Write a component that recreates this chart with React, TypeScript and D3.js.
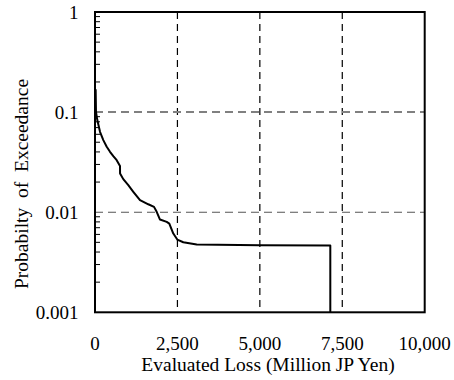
import React from "react";
import * as d3 from "d3";

const lossValues = [20, 30, 70, 152, 252, 355, 455, 555, 658, 758, 760, 858, 1010, 1162, 1365, 1617, 1790, 1871, 1971, 2175, 2254, 2375, 2496, 2678, 3085, 5005, 7137, 7137];
const probValues = [0.169, 0.1007, 0.0832, 0.0635, 0.0525, 0.045, 0.0401, 0.0363, 0.0331, 0.029, 0.0244, 0.0214, 0.0186, 0.016, 0.0132, 0.012, 0.0113, 0.0101, 0.00845, 0.008, 0.0077, 0.00612, 0.00533, 0.00501, 0.00475, 0.00468, 0.00466, 0.001];
const xTicks = [0, 2500, 5000, 7500, 10000];
const yTicks = [0.001, 0.01, 0.1, 1];
const yTickLabels = ["0.001", "0.01", "0.1", "1"];

export default function App() {
  const W = 454, H = 380;
  const L = 95, R = 424.7, T = 12, B = 312.3;
  const x = d3.scaleLinear().domain([0, 10000]).range([L, R]);
  const y = d3.scaleLog().domain([0.001, 1]).range([B, T]);
  const pts = lossValues.map((v, i) => [v, probValues[i]] as [number, number]);
  const line = d3.line<[number, number]>().x(d => x(d[0])).y(d => y(d[1])).curve(d3.curveLinear);
  const minor: number[] = [];
  for (const dec of [0.001, 0.01, 0.1]) for (let k = 2; k <= 9; k++) minor.push(dec * k);
  const font = "Liberation Serif, Times New Roman, serif";
  return (
    <svg width={W} height={H} style={{ position: "absolute", left: 0, top: 0 }}>
      <rect width={W} height={H} fill="#fff" />
      {xTicks.slice(1, 4).map(t => (
        <line key={"vx" + t} x1={x(t)} x2={x(t)} y1={T} y2={B} stroke="#000" strokeWidth={1.2} strokeDasharray="7,5" />
      ))}
      <line x1={L} x2={R} y1={y(0.1)} y2={y(0.1)} stroke="#808080" strokeWidth={2} strokeDasharray="8,5" />
      <line x1={L} x2={R} y1={y(0.01)} y2={y(0.01)} stroke="#555" strokeWidth={1.1} strokeDasharray="8,5" />
      {minor.map(m => (
        <line key={"m" + m} x1={L} x2={L + 5} y1={y(m)} y2={y(m)} stroke="#000" strokeWidth={1} />
      ))}
      <path d={line(pts) || ""} fill="none" stroke="#000" strokeWidth={2} strokeLinejoin="round" />
      <rect x={L} y={T} width={R - L} height={B - T} fill="none" stroke="#000" strokeWidth={2} />
      {yTicks.map((t, i) => (
        <text key={"yt" + t} x={78.5} y={y(t)} dy="0.35em" textAnchor="end" fontFamily={font} fontSize={19}>{yTickLabels[i]}</text>
      ))}
      {xTicks.map(t => (
        <text key={"xt" + t} x={x(t)} y={350} textAnchor="middle" fontFamily={font} fontSize={19}>{d3.format(",")(t)}</text>
      ))}
      <text x={268} y={370.7} textAnchor="middle" fontFamily={font} fontSize={19.5}>Evaluated Loss (Million JP Yen)</text>
      <text transform="translate(28,289) rotate(-90)" textAnchor="start" fontFamily={font} fontSize={19.5} style={{ whiteSpace: "pre" }}>{"Probabilty  of  Exceedance"}</text>
    </svg>
  );
}
